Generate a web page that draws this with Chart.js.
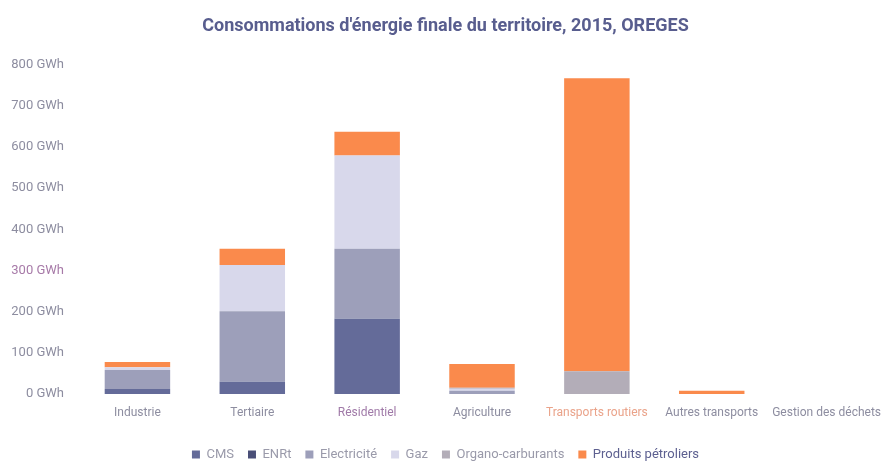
<!DOCTYPE html>
<html><head><meta charset="utf-8">
<script src="https://cdn.jsdelivr.net/npm/chart.js@4/dist/chart.umd.min.js"></script>
<style>html,body{margin:0;padding:0;background:#fff}#wrap{width:885px;height:463px}</style>
</head><body><div id="wrap"><canvas id="c" width="885" height="463"></canvas></div>
<script>
const categories = ["Industrie","Tertiaire","Résidentiel","Agriculture","Transports routiers","Autres transports","Gestion des déchets"];
const cms        = [12, 30, 183, 0, 0, 0, 0];
const enrt       = [0, 0, 0, 0, 0, 0, 0];
const electricite= [46, 171, 170, 8, 0, 0, 0];
const gaz        = [7, 112, 226, 5, 0, 0, 0];
const organo     = [0, 0, 0, 2, 55, 0, 0];
const petroliers = [13, 40, 58, 58, 712, 8, 0];
const yTicks = [0,100,200,300,400,500,600,700,800];
const FONT = "Roboto, 'Noto Sans', sans-serif";
const seriesDefs = [
  ["CMS", cms, "#646b99"],
  ["ENRt", enrt, "#4a4f78"],
  ["Electricité", electricite, "#9d9fba"],
  ["Gaz", gaz, "#d8d8eb"],
  ["Organo-carburants", organo, "#b3adb8"],
  ["Produits pétroliers", petroliers, "#fa8a4c"]
];
new Chart(document.getElementById('c'), {
  type: 'bar',
  data: {
    labels: categories,
    datasets: seriesDefs.map(([l,d,c]) => ({label:l, data:d, backgroundColor:c, borderWidth:0, barPercentage:0.57, categoryPercentage:1}))
  },
  options: {
    responsive:false, animation:false,
    layout:{padding:{left:6,right:0,top:6,bottom:-8}},
    plugins:{
      title:{display:true, text:"Consommations d'énergie finale du territoire, 2015, OREGES", color:'#585d8e',
        font:{family:FONT, size:18, weight:'bold'}, padding:{top:10,bottom:27}},
      legend:{position:'bottom', labels:{boxWidth:8, boxHeight:8, padding:14, font:{family:FONT,size:13},
        generateLabels:(chart)=>{
          const items = Chart.defaults.plugins.legend.labels.generateLabels(chart);
          items.forEach((it,i)=>{ it.fontColor = i===5 ? '#5d6090' : '#9a9aaa'; it.lineWidth=0; });
          return items;
        }}},
      tooltip:{enabled:false}
    },
    scales:{
      x:{stacked:true, grid:{display:false}, border:{display:false},
        afterFit:(s)=>{s.height=40;},
        ticks:{font:{family:FONT,size:12}, padding:4, maxRotation:0, minRotation:0, autoSkip:false,
          color:(ctx)=> ctx.index===2 ? '#a07aa8' : (ctx.index===4 ? '#eaa38a' : '#8d8da0')}},
      y:{stacked:true, min:0, max:800, grid:{display:false}, border:{display:false},
        afterFit:(s)=>{s.width=74;},
        afterBuildTicks:(s)=>{s.ticks = yTicks.map(v=>({value:v}));},
        ticks:{font:{family:FONT,size:13}, padding:8,
          color:(ctx)=> ctx.tick.value===300 ? '#a77aa8' : '#8d8da0',
          callback:(v)=> v + ' GWh'}}
    }
  }
});
</script></body></html>
